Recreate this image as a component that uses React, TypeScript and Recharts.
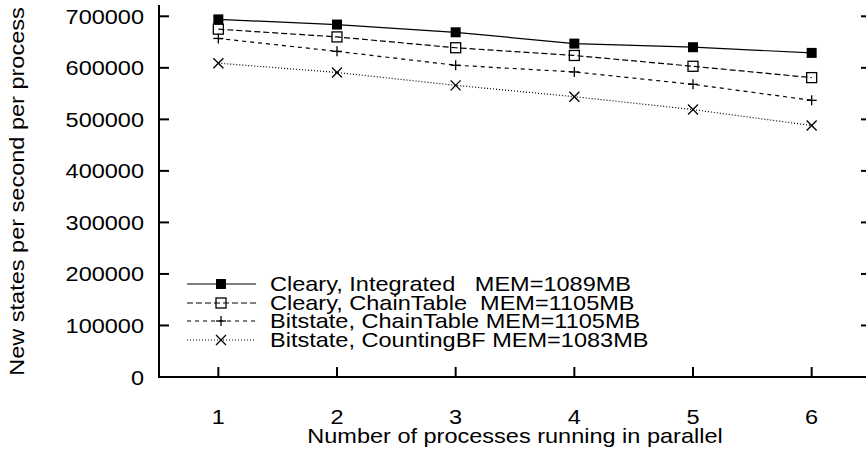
import React from 'react';
import { LineChart, Line, XAxis, YAxis, Legend } from 'recharts';

const processCounts = [1, 2, 3, 4, 5, 6];
const clearyIntegrated = [694000, 684000, 669000, 647000, 640000, 629000];
const clearyChainTable = [675000, 660000, 639000, 624000, 603000, 581000];
const bitstateChainTable = [657000, 632000, 605000, 592000, 568000, 537000];
const bitstateCountingBF = [609000, 591000, 566000, 544000, 519000, 488000];

const seriesNames = [
  'Cleary, Integrated   MEM=1089MB',
  'Cleary, ChainTable  MEM=1105MB',
  'Bitstate, ChainTable MEM=1105MB',
  'Bitstate, CountingBF MEM=1083MB',
];
const seriesValues = [clearyIntegrated, clearyChainTable, bitstateChainTable, bitstateCountingBF];
const seriesMarkers = ['filledSquare', 'openSquare', 'plus', 'cross'];
const seriesDashes = ['', '6 3', '4 4', '1 2'];

const xTicks = [1, 2, 3, 4, 5, 6];
const yTicks = [0, 100000, 200000, 300000, 400000, 500000, 600000, 700000];
const xTitle = 'Number of processes running in parallel';
const yTitle = 'New states per second per process';

const data = processCounts.map((p, i) => {
  const row: any = { p };
  seriesValues.forEach((vals, s) => {
    row['s' + s] = vals[i];
  });
  return row;
});

const FONT = '"Liberation Sans", Arial, Helvetica, sans-serif';
const FS = 21;
const SX = 1.12;

function Marker({ type, cx, cy }: { type: string; cx: number; cy: number }) {
  const h = 5;
  if (type === 'filledSquare') {
    return <rect x={cx - h} y={cy - h} width={2 * h} height={2 * h} fill="#000" />;
  }
  if (type === 'openSquare') {
    return <rect x={cx - h} y={cy - h} width={2 * h} height={2 * h} fill="none" stroke="#000" strokeWidth={1.3} />;
  }
  if (type === 'plus') {
    return (
      <g stroke="#000" strokeWidth={1.3}>
        <line x1={cx - h} y1={cy} x2={cx + h} y2={cy} />
        <line x1={cx} y1={cy - h} x2={cx} y2={cy + h} />
      </g>
    );
  }
  return (
    <g stroke="#000" strokeWidth={1.3}>
      <line x1={cx - h} y1={cy - h} x2={cx + h} y2={cy + h} />
      <line x1={cx - h} y1={cy + h} x2={cx + h} y2={cy - h} />
    </g>
  );
}

function SText({ x, y, anchor, rotate, children }: any) {
  return (
    <text
      x={0}
      y={0}
      transform={`translate(${x} ${y})${rotate ? ` rotate(${rotate})` : ''} scale(${SX} 1)`}
      textAnchor={anchor}
      fontSize={FS}
      fontFamily={FONT}
      fill="#000"
    >
      {children}
    </text>
  );
}

const BottomTick = (props: any) => {
  const { x, y, payload } = props;
  return (
    <g>
      <line x1={x} y1={y} x2={x} y2={y - 10} stroke="#000" strokeWidth={2} />
      <SText x={x} y={y + 47} anchor="middle">{payload.value}</SText>
    </g>
  );
};

const TopTick = (props: any) => {
  const { x, y } = props;
  return <line x1={x} y1={y} x2={x} y2={y + 10} stroke="#000" strokeWidth={2} />;
};

const LeftTick = (props: any) => {
  const { x, y, payload } = props;
  return (
    <g>
      <line x1={x} y1={y} x2={x + 10} y2={y} stroke="#000" strokeWidth={2} />
      <SText x={x - 15} y={y + 7.5} anchor="end">{payload.value}</SText>
    </g>
  );
};

const RightTick = (props: any) => {
  const { x, y } = props;
  return <line x1={x} y1={y} x2={x - 10} y2={y} stroke="#000" strokeWidth={2} />;
};

const XLabel = (props: any) => {
  const vb = props.viewBox || {};
  return <SText x={vb.x + vb.width / 2} y={vb.y + 66} anchor="middle">{xTitle}</SText>;
};

const YLabel = (props: any) => {
  const vb = props.viewBox || {};
  return <SText x={24} y={vb.y + vb.height / 2} anchor="middle" rotate={-90}>{yTitle}</SText>;
};

const LegendContent = () => (
  <div style={{ fontFamily: FONT }}>
    {seriesNames.map((name, i) => (
      <div key={name} style={{ position: 'relative', height: 18.6, whiteSpace: 'pre' }}>
        <svg width={69} height={18} style={{ position: 'absolute', left: 0, top: 0, overflow: 'visible' }}>
          <line x1={0} y1={9} x2={69} y2={9} stroke="#000" strokeWidth={1.2} strokeDasharray={seriesDashes[i] || undefined} />
          <Marker type={seriesMarkers[i]} cx={34} cy={9} />
        </svg>
        <span
          style={{
            position: 'absolute',
            left: 83,
            top: 9 - 0.5 * FS * 1.15,
            fontSize: FS,
            lineHeight: `${FS * 1.15}px`,
            color: '#000',
            transform: `scaleX(${SX})`,
            transformOrigin: 'left center',
          }}
        >
          {name}
        </span>
      </div>
    ))}
  </div>
);

export default function App() {
  return (
    <div style={{ position: 'fixed', left: 0, top: 0, width: 866, height: 450, overflow: 'hidden', background: '#fff' }}>
      <LineChart width={880} height={450} data={data} margin={{ top: 6, right: 0, bottom: 0, left: 0 }}>
        <XAxis
          dataKey="p"
          type="number"
          domain={[0.5, 6.5]}
          ticks={xTicks}
          interval={0}
          allowDataOverflow
          height={73}
          tickSize={0}
          tickMargin={0}
          tickLine={false}
          tick={BottomTick}
          axisLine={{ stroke: '#000', strokeWidth: 2, strokeLinecap: 'square' }}
          label={<XLabel />}
        />
        <XAxis
          xAxisId="top"
          orientation="top"
          dataKey="p"
          type="number"
          domain={[0.5, 6.5]}
          ticks={xTicks}
          interval={0}
          allowDataOverflow
          height={0}
          tickSize={0}
          tickMargin={0}
          tickLine={false}
          tick={TopTick}
          axisLine={{ stroke: '#000', strokeWidth: 2, strokeLinecap: 'square' }}
        />
        <YAxis
          type="number"
          domain={[0, 720000]}
          ticks={yTicks}
          interval={0}
          allowDataOverflow
          width={159}
          tickSize={0}
          tickMargin={0}
          tickLine={false}
          tick={LeftTick}
          axisLine={{ stroke: '#000', strokeWidth: 2, strokeLinecap: 'square' }}
          label={<YLabel />}
        />
        <YAxis
          yAxisId="right"
          orientation="right"
          type="number"
          domain={[0, 720000]}
          ticks={yTicks}
          interval={0}
          allowDataOverflow
          width={9}
          tickSize={0}
          tickMargin={0}
          tickLine={false}
          tick={RightTick}
          axisLine={{ stroke: '#000', strokeWidth: 2, strokeLinecap: 'square' }}
        />
        <Legend
          layout="vertical"
          align="center"
          verticalAlign="middle"
          content={<LegendContent />}
          wrapperStyle={{ left: 187, top: 275, width: 520, height: 80 }}
        />
        {seriesNames.map((name, s) => (
          <Line
            key={name}
            name={name}
            dataKey={'s' + s}
            stroke="#000"
            strokeWidth={1.2}
            strokeDasharray={seriesDashes[s] || undefined}
            isAnimationActive={false}
            dot={(props: any) => (
              <Marker key={`m-${s}-${props.index}`} type={seriesMarkers[s]} cx={props.cx} cy={props.cy} />
            )}
            activeDot={false}
          />
        ))}
      </LineChart>
    </div>
  );
}
